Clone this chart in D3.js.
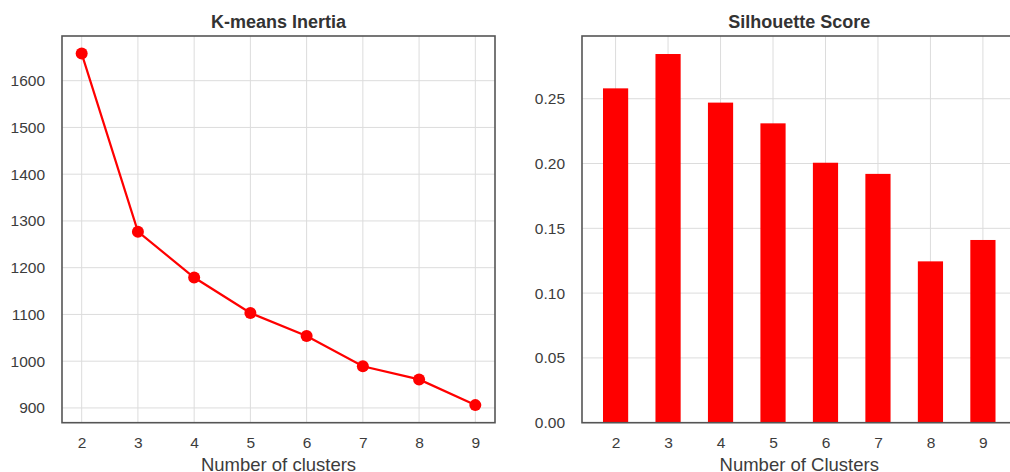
<!DOCTYPE html>
<html>
<head>
<meta charset="utf-8">
<script src="https://cdn.jsdelivr.net/npm/d3@7"></script>
<style>
  html, body { margin: 0; padding: 0; background: #fff; }
  svg { display: block; }
  text { font-family: "Liberation Sans", Arial, sans-serif; }
</style>
</head>
<body>
<svg id="chart" width="1010" height="472"></svg>
<script>
// Elbow curve: inertia per number of clusters
const clusterCounts = [2, 3, 4, 5, 6, 7, 8, 9];
const inertiaValues = [1658, 1277, 1179, 1103, 1054, 989, 961, 906];
const inertiaTicks = [900, 1000, 1100, 1200, 1300, 1400, 1500, 1600];

// Silhouette score per number of clusters
const silhouetteCategories = ["2", "3", "4", "5", "6", "7", "8", "9"];
const silhouetteValues = [0.258, 0.2845, 0.247, 0.231, 0.2006, 0.192, 0.1245, 0.141];
const silhouetteTicks = [0.00, 0.05, 0.10, 0.15, 0.20, 0.25];

const svg = d3.select("#chart");
const gridColor = "#dcdcdc";
const frameColor = "#555";
const tickColor = "#3c3c3c";
const markColor = "#ff0000";

function frame(g, x0, x1, y0, y1) {
  g.append("rect")
    .attr("x", x0).attr("y", y0)
    .attr("width", x1 - x0).attr("height", y1 - y0)
    .attr("fill", "none")
    .attr("stroke", frameColor)
    .attr("stroke-width", 1.6);
}

function styleAxis(sel) {
  sel.select(".domain").remove();
  sel.selectAll(".tick line").remove();
  sel.selectAll(".tick text")
    .attr("fill", tickColor)
    .style("font-size", "15.5px")
    .style("font-family", "'Liberation Sans', Arial, sans-serif");
}

function titles(g, cx, title, xlabel) {
  g.append("text")
    .attr("x", cx).attr("y", 27.5)
    .attr("text-anchor", "middle")
    .attr("fill", "#333")
    .style("font-size", "18px")
    .style("font-weight", "bold")
    .text(title);
  g.append("text")
    .attr("x", cx).attr("y", 471)
    .attr("text-anchor", "middle")
    .attr("fill", tickColor)
    .style("font-size", "18.5px")
    .text(xlabel);
}

// ---------- Left panel: K-means inertia line ----------
{
  const L = { x0: 62, x1: 495, y0: 36, y1: 422.7 };
  const g = svg.append("g");
  const x = d3.scaleLinear().domain([1.65, 9.35]).range([L.x0, L.x1]);
  const y = d3.scaleLinear().domain([868.4, 1695.6]).range([L.y1, L.y0]);

  // grid
  g.append("g").selectAll("line.v").data(clusterCounts).join("line")
    .attr("x1", d => x(d)).attr("x2", d => x(d))
    .attr("y1", L.y0).attr("y2", L.y1)
    .attr("stroke", gridColor).attr("stroke-width", 1);
  g.append("g").selectAll("line.h").data(inertiaTicks).join("line")
    .attr("x1", L.x0).attr("x2", L.x1)
    .attr("y1", d => y(d)).attr("y2", d => y(d))
    .attr("stroke", gridColor).attr("stroke-width", 1);

  // axes
  g.append("g")
    .attr("transform", `translate(0,${L.y1})`)
    .call(d3.axisBottom(x).tickValues(clusterCounts).tickFormat(d3.format("d")).tickSize(0).tickPadding(14))
    .call(styleAxis);
  g.append("g")
    .attr("transform", `translate(${L.x0},0)`)
    .call(d3.axisLeft(y).tickValues(inertiaTicks).tickFormat(d3.format("d")).tickSize(0).tickPadding(17))
    .call(styleAxis);

  // line + markers
  const pts = clusterCounts.map((k, i) => [k, inertiaValues[i]]);
  g.append("path")
    .datum(pts)
    .attr("fill", "none")
    .attr("stroke", markColor)
    .attr("stroke-width", 2.2)
    .attr("d", d3.line().x(d => x(d[0])).y(d => y(d[1])));
  g.append("g").selectAll("circle").data(pts).join("circle")
    .attr("cx", d => x(d[0])).attr("cy", d => y(d[1]))
    .attr("r", 6)
    .attr("fill", markColor);

  frame(g, L.x0, L.x1, L.y0, L.y1);
  titles(g, (L.x0 + L.x1) / 2, "K-means Inertia", "Number of clusters");
}

// ---------- Right panel: silhouette score bars ----------
{
  const R = { x0: 582, x1: 1016.5, y0: 36, y1: 422.7 };
  const g = svg.append("g");
  const x = d3.scalePoint().domain(silhouetteCategories).range([R.x0, R.x1]).padding(0.64);
  const y = d3.scaleLinear().domain([0, 0.2984]).range([R.y1, R.y0]);
  const barW = x.step() * 0.48;

  // grid
  g.append("g").selectAll("line.v").data(silhouetteCategories).join("line")
    .attr("x1", d => x(d)).attr("x2", d => x(d))
    .attr("y1", R.y0).attr("y2", R.y1)
    .attr("stroke", gridColor).attr("stroke-width", 1);
  g.append("g").selectAll("line.h").data(silhouetteTicks).join("line")
    .attr("x1", R.x0).attr("x2", R.x1)
    .attr("y1", d => y(d)).attr("y2", d => y(d))
    .attr("stroke", gridColor).attr("stroke-width", 1);

  // bars
  g.append("g").selectAll("rect").data(silhouetteCategories).join("rect")
    .attr("x", d => x(d) - barW / 2)
    .attr("width", barW)
    .attr("y", (d, i) => y(silhouetteValues[i]))
    .attr("height", (d, i) => y(0) - y(silhouetteValues[i]))
    .attr("fill", markColor);

  // axes
  g.append("g")
    .attr("transform", `translate(0,${R.y1})`)
    .call(d3.axisBottom(x).tickSize(0).tickPadding(14))
    .call(styleAxis);
  g.append("g")
    .attr("transform", `translate(${R.x0},0)`)
    .call(d3.axisLeft(y).tickValues(silhouetteTicks).tickFormat(d3.format(".2f")).tickSize(0).tickPadding(17))
    .call(styleAxis);

  frame(g, R.x0, R.x1, R.y0, R.y1);
  titles(g, (R.x0 + R.x1) / 2, "Silhouette Score", "Number of Clusters");
}
</script>
</body>
</html>
